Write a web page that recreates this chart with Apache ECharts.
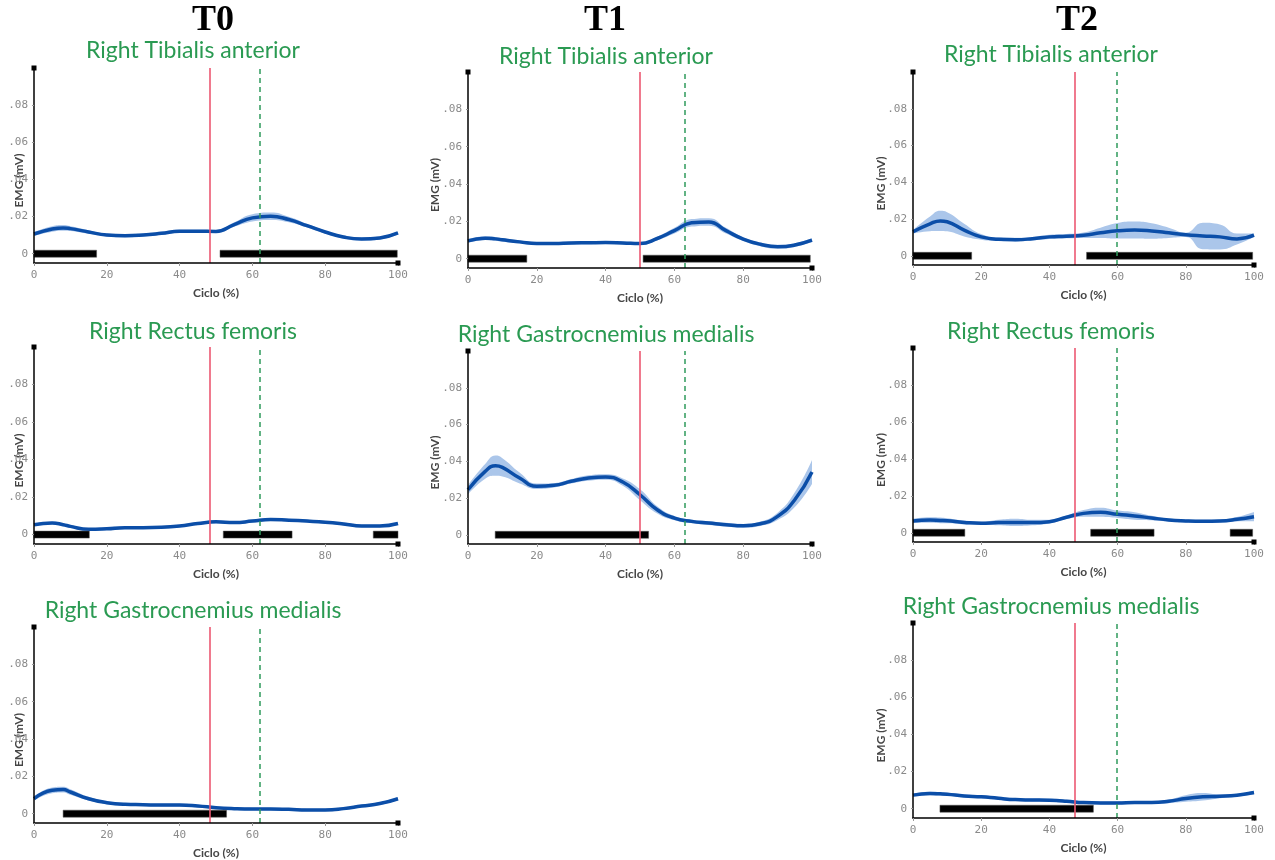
<!DOCTYPE html>
<html><head><meta charset="utf-8">
<script src="https://cdn.jsdelivr.net/npm/echarts@6/dist/echarts.min.js"></script>
<style>html,body{margin:0;padding:0;background:#fff}#c{width:1275px;height:860px}</style>
</head><body><div id="c"></div><script>
// ---- data ----
const X = [0,5,8,10,15,20,25,30,35,40,45,50,55,60,65,70,75,80,85,90,95,100];
const COLS = ['T0','T1','T2'];
const Y_TICKS = [0,0.02,0.04,0.06,0.08];
const RED_LINE = [48.4, 49.8, 47.3];
const GREEN_LINE = [62.1, 62.9, 59.7];

const t0TibMean = [0.0106,0.0133,0.0139,0.0135,0.0117,0.0101,0.0097,0.0101,0.0110,0.0121,0.0121,0.0120,0.0157,0.0193,0.0202,0.0184,0.0151,0.0117,0.0090,0.0079,0.0085,0.0112];
const t0TibSd   = [0.0010,0.0015,0.0015,0.0013,0.0010,0.0008,0.0008,0.0008,0.0008,0.0008,0.0008,0.0008,0.0012,0.0020,0.0020,0.0015,0.0010,0.0008,0.0008,0.0008,0.0008,0.0008];
const t0TibBars = [[0,17.2],[51.1,99.8]];

const t0RectMean = [0.0053,0.0062,0.0053,0.0044,0.0028,0.0031,0.0037,0.0037,0.0039,0.0046,0.0059,0.0068,0.0064,0.0072,0.0081,0.0077,0.0072,0.0066,0.0057,0.0046,0.0046,0.0059];
const t0RectSd   = [0.0007,0.0007,0.0007,0.0007,0.0007,0.0007,0.0007,0.0007,0.0007,0.0007,0.0007,0.0007,0.0007,0.0007,0.0007,0.0007,0.0007,0.0007,0.0007,0.0007,0.0007,0.0007];
const t0RectBars = [[0,15.2],[52,70.9],[93.2,100]];

const t0GasMean = [0.0080,0.0125,0.0129,0.0116,0.0080,0.0059,0.0050,0.0048,0.0046,0.0046,0.0041,0.0032,0.0027,0.0025,0.0025,0.0023,0.0020,0.0020,0.0027,0.0041,0.0054,0.0080];
const t0GasSd   = [0.0010,0.0015,0.0015,0.0015,0.0010,0.0007,0.0007,0.0007,0.0007,0.0007,0.0007,0.0007,0.0007,0.0007,0.0007,0.0007,0.0007,0.0007,0.0007,0.0007,0.0007,0.0008];
const t0GasBars = [[8,52.9]];

const t1TibMean = [0.0095,0.0110,0.0106,0.0101,0.0090,0.0081,0.0081,0.0084,0.0085,0.0086,0.0084,0.0081,0.0108,0.0150,0.0192,0.0197,0.0150,0.0105,0.0077,0.0064,0.0073,0.0099];
const t1TibSd   = [0.0010,0.0010,0.0010,0.0010,0.0008,0.0008,0.0008,0.0008,0.0008,0.0008,0.0008,0.0008,0.0010,0.0015,0.0020,0.0020,0.0015,0.0010,0.0010,0.0010,0.0010,0.0010];
const t1TibBars = [[0,17.1],[50.9,99.5]];

const t1GasMean = [0.0245,0.0345,0.0376,0.0367,0.0309,0.0264,0.0269,0.0291,0.0309,0.0315,0.0287,0.0218,0.0136,0.0091,0.0073,0.0064,0.0055,0.0049,0.0060,0.0100,0.0191,0.0342];
const t1GasSd   = [0.0025,0.0040,0.0055,0.0050,0.0030,0.0015,0.0012,0.0012,0.0015,0.0015,0.0020,0.0030,0.0020,0.0012,0.0010,0.0010,0.0010,0.0010,0.0012,0.0020,0.0040,0.0065];
const t1GasBars = [[7.9,52.5]];

const t2TibMean = [0.0131,0.0174,0.0190,0.0185,0.0140,0.0103,0.0090,0.0088,0.0093,0.0103,0.0107,0.0112,0.0125,0.0136,0.0140,0.0135,0.0125,0.0114,0.0108,0.0103,0.0092,0.0112];
const t2TibSd   = [0.0010,0.0040,0.0055,0.0052,0.0035,0.0015,0.0010,0.0010,0.0010,0.0012,0.0012,0.0015,0.0028,0.0042,0.0046,0.0042,0.0028,0.0012,0.0072,0.0068,0.0030,0.0010];
const t2TibBars = [[0,17.2],[50.9,99.6]];

const t2RectMean = [0.0064,0.0069,0.0067,0.0065,0.0056,0.0051,0.0055,0.0056,0.0055,0.0060,0.0084,0.0105,0.0111,0.0100,0.0091,0.0080,0.0069,0.0064,0.0062,0.0064,0.0073,0.0087];
const t2RectSd   = [0.0012,0.0015,0.0015,0.0013,0.0010,0.0008,0.0015,0.0020,0.0015,0.0010,0.0010,0.0018,0.0025,0.0020,0.0020,0.0012,0.0008,0.0008,0.0008,0.0008,0.0012,0.0025];
const t2RectBars = [[0,15.2],[52.1,70.7],[93,99.6]];

const t2GasMean = [0.0073,0.0082,0.0080,0.0078,0.0069,0.0064,0.0056,0.0049,0.0047,0.0045,0.0040,0.0033,0.0031,0.0031,0.0033,0.0033,0.0040,0.0055,0.0064,0.0067,0.0073,0.0087];
const t2GasSd   = [0.0008,0.0010,0.0010,0.0008,0.0008,0.0008,0.0008,0.0008,0.0008,0.0008,0.0008,0.0008,0.0008,0.0008,0.0008,0.0008,0.0010,0.0018,0.0020,0.0010,0.0008,0.0010];
const t2GasBars = [[7.9,52.9]];

const TITLES = {
  tib: 'Right Tibialis anterior',
  rect: 'Right Rectus femoris',
  gas: 'Right Gastrocnemius medialis'
};

// ---- layout ----
const panels = [
  {col:0, title:TITLES.tib,  mean:t0TibMean,  sd:t0TibSd,  bars:t0TibBars,  grid:{left:34, top:68,  width:364, height:195}, ty:51},
  {col:0, title:TITLES.rect, mean:t0RectMean, sd:t0RectSd, bars:t0RectBars, grid:{left:34, top:347, width:364, height:197}, ty:332},
  {col:0, title:TITLES.gas,  mean:t0GasMean,  sd:t0GasSd,  bars:t0GasBars,  grid:{left:34, top:627, width:364, height:196}, ty:611},
  {col:1, title:TITLES.tib,  mean:t1TibMean,  sd:t1TibSd,  bars:t1TibBars,  grid:{left:468, top:72, width:344, height:196}, ty:57},
  {col:1, title:TITLES.gas,  mean:t1GasMean,  sd:t1GasSd,  bars:t1GasBars,  grid:{left:468, top:351, width:344, height:193}, ty:335},
  {col:2, title:TITLES.tib,  mean:t2TibMean,  sd:t2TibSd,  bars:t2TibBars,  grid:{left:913, top:72, width:341, height:193}, ty:55},
  {col:2, title:TITLES.rect, mean:t2RectMean, sd:t2RectSd, bars:t2RectBars, grid:{left:913, top:348, width:341, height:194}, ty:332},
  {col:2, title:TITLES.gas,  mean:t2GasMean,  sd:t2GasSd,  bars:t2GasBars,  grid:{left:913, top:623, width:341, height:195}, ty:607}
];
const HEAD_X = [213, 605, 1077];
const TITLE_X = [193, 606, 1051];
const NAME_GAP = [9, 27, 26];

const grids = [], xAxes = [], yAxes = [], series = [], graphics = [];
COLS.forEach((c, i) => {
  graphics.push({type:'text', x:HEAD_X[i], y:21, style:{text:c, font:'bold 36px "Liberation Serif"', fill:'#000', align:'center', verticalAlign:'middle'}});
});
const fmtY = v => v === 0 ? '0' : '.' + String(Math.round(v*100)).padStart(2,'0');
panels.forEach((p, i) => {
  grids.push(Object.assign({containLabel:false, outerBoundsMode:'none'}, p.grid));
  graphics.push({type:'text', x:TITLE_X[p.col], y:p.ty, style:{text:p.title, font:'23px Lato', fill:'#2a9a52', align:'center', verticalAlign:'middle'}});
  xAxes.push({
    gridIndex:i, type:'value', min:0, max:100, interval:20, z:6,
    axisLine:{onZero:false, lineStyle:{color:'#000', width:1.5}, symbol:['none','rect'], symbolSize:[5,5]},
    axisTick:{show:true, length:3, lineStyle:{color:'#999'}},
    axisLabel:{color:'#8a8a8a', fontFamily:'DejaVu Sans Mono', fontSize:11, margin:7},
    splitLine:{show:false},
    name:'Ciclo (%)', nameLocation:'middle', nameGap:24, nameMoveOverlap:false,
    nameTextStyle:{color:'#454545', fontFamily:'Lato', fontSize:12, fontWeight:'bold'}
  });
  yAxes.push({
    gridIndex:i, type:'value', min:-0.005, max:0.1, z:6,
    axisLine:{show:true, lineStyle:{color:'#000', width:1.5}, symbol:['none','rect'], symbolSize:[5,5]},
    axisTick:{show:true, length:2, customValues:Y_TICKS, lineStyle:{color:'#999'}},
    axisLabel:{customValues:Y_TICKS, formatter:fmtY, color:'#8a8a8a', fontFamily:'DejaVu Sans Mono', fontSize:11, margin:6},
    splitLine:{show:false},
    name:'EMG (mV)', nameLocation:'middle', nameGap:NAME_GAP[p.col], nameMoveOverlap:false,
    nameTextStyle:{color:'#454545', fontFamily:'Lato', fontSize:12, fontWeight:'bold', padding:[0,30,0,0]}
  });
  // upper band edge, filled down to axis bottom
  series.push({
    type:'line', xAxisIndex:i, yAxisIndex:i, smooth:true, symbol:'none', silent:true,
    data:X.map((x,k)=>[x, p.mean[k]+p.sd[k]]), lineStyle:{width:0, opacity:0},
    areaStyle:{color:'#abc6ea', opacity:1, origin:'start'}, z:1
  });
  // lower band edge, white fill below it
  series.push({
    type:'line', xAxisIndex:i, yAxisIndex:i, smooth:true, symbol:'none', silent:true,
    data:X.map((x,k)=>[x, p.mean[k]-p.sd[k]]), lineStyle:{width:0, opacity:0},
    areaStyle:{color:'#ffffff', opacity:1, origin:'start'}, z:2
  });
  series.push({
    type:'line', xAxisIndex:i, yAxisIndex:i, smooth:true, symbol:'none', silent:true,
    data:X.map((x,k)=>[x, p.mean[k]]), lineStyle:{color:'#0b4ea8', width:3.5}, z:3
  });
  series.push({
    type:'custom', xAxisIndex:i, yAxisIndex:i, silent:true, z:4,
    data:p.bars.map(b=>[b[0], b[1], 0]),
    encode:{x:[0,1], y:2},
    renderItem:(params, api) => {
      const s = api.coord([api.value(0), api.value(2)]);
      const e = api.coord([api.value(1), api.value(2)]);
      return {type:'rect', shape:{x:s[0], y:s[1]-3.5, width:e[0]-s[0], height:7}, style:{fill:'#000', stroke:'#555', lineWidth:0.5}};
    }
  });
  series.push({
    type:'line', xAxisIndex:i, yAxisIndex:i, data:[], z:5,
    markLine:{silent:true, symbol:['none','none'], label:{show:false}, animation:false,
      data:[
        {xAxis:RED_LINE[p.col], lineStyle:{color:'#ec5872', width:1.6, type:'solid'}},
        {xAxis:GREEN_LINE[p.col], lineStyle:{color:'#2f9a5c', width:1.5, type:[5,4]}}
      ]}
  });
});

const chart = echarts.init(document.getElementById('c'), null, {renderer:'canvas'});
chart.setOption({
  animation:false,
  backgroundColor:'#fff',
  grid:grids, xAxis:xAxes, yAxis:yAxes, series:series, graphic:graphics
});
</script></body></html>
